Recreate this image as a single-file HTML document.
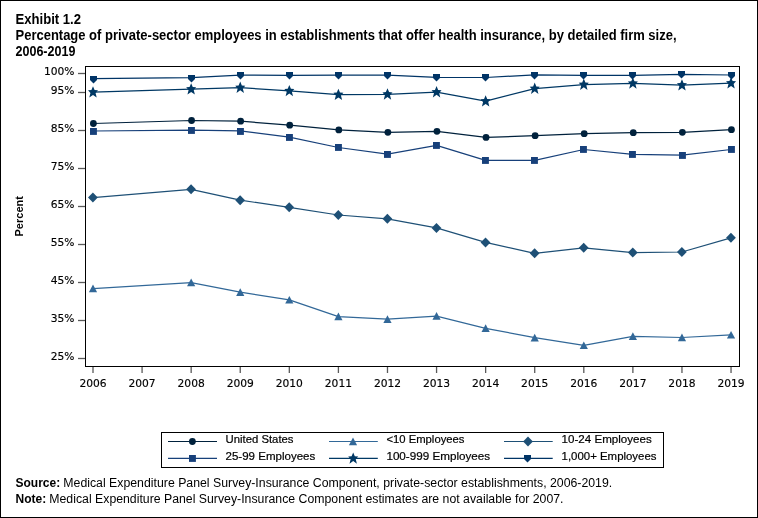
<!DOCTYPE html>
<html><head><meta charset="utf-8"><title>Exhibit 1.2</title>
<style>html,body{margin:0;padding:0;background:#fff;} svg{display:block;}</style>
</head><body>
<svg width="758" height="518" viewBox="0 0 758 518">
<rect x="0.5" y="0.5" width="757" height="517" fill="#fff" stroke="#000" stroke-width="1"/>
<text x="15.5" y="23.8" textLength="65.5" font-family="Liberation Sans, Arial, sans-serif" font-weight="bold" font-size="14" lengthAdjust="spacingAndGlyphs">Exhibit 1.2</text>
<text x="15.5" y="39.7" textLength="661" font-family="Liberation Sans, Arial, sans-serif" font-weight="bold" font-size="14" lengthAdjust="spacingAndGlyphs">Percentage of private-sector employees in establishments that offer health insurance, by detailed firm size,</text>
<text x="15.5" y="55.7" textLength="59.9" font-family="Liberation Sans, Arial, sans-serif" font-weight="bold" font-size="14" lengthAdjust="spacingAndGlyphs">2006-2019</text>
<line x1="78" y1="73.5" x2="85" y2="73.5" stroke="#5a5a5a" stroke-width="1.3"/>
<text x="74.5" y="75.1" text-anchor="end" font-family="DejaVu Sans, Verdana, sans-serif" font-size="10.7" fill="#000" stroke="#000" stroke-width="0.15">100%</text>
<line x1="78" y1="92.5" x2="85" y2="92.5" stroke="#5a5a5a" stroke-width="1.3"/>
<text x="74.5" y="94.1" text-anchor="end" font-family="DejaVu Sans, Verdana, sans-serif" font-size="10.7" fill="#000" stroke="#000" stroke-width="0.15">95%</text>
<line x1="78" y1="130.5" x2="85" y2="130.5" stroke="#5a5a5a" stroke-width="1.3"/>
<text x="74.5" y="132.1" text-anchor="end" font-family="DejaVu Sans, Verdana, sans-serif" font-size="10.7" fill="#000" stroke="#000" stroke-width="0.15">85%</text>
<line x1="78" y1="168.5" x2="85" y2="168.5" stroke="#5a5a5a" stroke-width="1.3"/>
<text x="74.5" y="170.1" text-anchor="end" font-family="DejaVu Sans, Verdana, sans-serif" font-size="10.7" fill="#000" stroke="#000" stroke-width="0.15">75%</text>
<line x1="78" y1="206.5" x2="85" y2="206.5" stroke="#5a5a5a" stroke-width="1.3"/>
<text x="74.5" y="208.1" text-anchor="end" font-family="DejaVu Sans, Verdana, sans-serif" font-size="10.7" fill="#000" stroke="#000" stroke-width="0.15">65%</text>
<line x1="78" y1="244.5" x2="85" y2="244.5" stroke="#5a5a5a" stroke-width="1.3"/>
<text x="74.5" y="246.1" text-anchor="end" font-family="DejaVu Sans, Verdana, sans-serif" font-size="10.7" fill="#000" stroke="#000" stroke-width="0.15">55%</text>
<line x1="78" y1="282.5" x2="85" y2="282.5" stroke="#5a5a5a" stroke-width="1.3"/>
<text x="74.5" y="284.1" text-anchor="end" font-family="DejaVu Sans, Verdana, sans-serif" font-size="10.7" fill="#000" stroke="#000" stroke-width="0.15">45%</text>
<line x1="78" y1="320.5" x2="85" y2="320.5" stroke="#5a5a5a" stroke-width="1.3"/>
<text x="74.5" y="322.1" text-anchor="end" font-family="DejaVu Sans, Verdana, sans-serif" font-size="10.7" fill="#000" stroke="#000" stroke-width="0.15">35%</text>
<line x1="78" y1="358.5" x2="85" y2="358.5" stroke="#5a5a5a" stroke-width="1.3"/>
<text x="74.5" y="360.1" text-anchor="end" font-family="DejaVu Sans, Verdana, sans-serif" font-size="10.7" fill="#000" stroke="#000" stroke-width="0.15">25%</text>
<line x1="93.00" y1="367" x2="93.00" y2="373" stroke="#5a5a5a" stroke-width="1.3"/>
<text x="93.00" y="387.2" text-anchor="middle" font-family="DejaVu Sans, Verdana, sans-serif" font-size="10.7" fill="#000" stroke="#000" stroke-width="0.15">2006</text>
<line x1="142.08" y1="367" x2="142.08" y2="373" stroke="#5a5a5a" stroke-width="1.3"/>
<text x="142.08" y="387.2" text-anchor="middle" font-family="DejaVu Sans, Verdana, sans-serif" font-size="10.7" fill="#000" stroke="#000" stroke-width="0.15">2007</text>
<line x1="191.16" y1="367" x2="191.16" y2="373" stroke="#5a5a5a" stroke-width="1.3"/>
<text x="191.16" y="387.2" text-anchor="middle" font-family="DejaVu Sans, Verdana, sans-serif" font-size="10.7" fill="#000" stroke="#000" stroke-width="0.15">2008</text>
<line x1="240.24" y1="367" x2="240.24" y2="373" stroke="#5a5a5a" stroke-width="1.3"/>
<text x="240.24" y="387.2" text-anchor="middle" font-family="DejaVu Sans, Verdana, sans-serif" font-size="10.7" fill="#000" stroke="#000" stroke-width="0.15">2009</text>
<line x1="289.32" y1="367" x2="289.32" y2="373" stroke="#5a5a5a" stroke-width="1.3"/>
<text x="289.32" y="387.2" text-anchor="middle" font-family="DejaVu Sans, Verdana, sans-serif" font-size="10.7" fill="#000" stroke="#000" stroke-width="0.15">2010</text>
<line x1="338.40" y1="367" x2="338.40" y2="373" stroke="#5a5a5a" stroke-width="1.3"/>
<text x="338.40" y="387.2" text-anchor="middle" font-family="DejaVu Sans, Verdana, sans-serif" font-size="10.7" fill="#000" stroke="#000" stroke-width="0.15">2011</text>
<line x1="387.48" y1="367" x2="387.48" y2="373" stroke="#5a5a5a" stroke-width="1.3"/>
<text x="387.48" y="387.2" text-anchor="middle" font-family="DejaVu Sans, Verdana, sans-serif" font-size="10.7" fill="#000" stroke="#000" stroke-width="0.15">2012</text>
<line x1="436.56" y1="367" x2="436.56" y2="373" stroke="#5a5a5a" stroke-width="1.3"/>
<text x="436.56" y="387.2" text-anchor="middle" font-family="DejaVu Sans, Verdana, sans-serif" font-size="10.7" fill="#000" stroke="#000" stroke-width="0.15">2013</text>
<line x1="485.64" y1="367" x2="485.64" y2="373" stroke="#5a5a5a" stroke-width="1.3"/>
<text x="485.64" y="387.2" text-anchor="middle" font-family="DejaVu Sans, Verdana, sans-serif" font-size="10.7" fill="#000" stroke="#000" stroke-width="0.15">2014</text>
<line x1="534.72" y1="367" x2="534.72" y2="373" stroke="#5a5a5a" stroke-width="1.3"/>
<text x="534.72" y="387.2" text-anchor="middle" font-family="DejaVu Sans, Verdana, sans-serif" font-size="10.7" fill="#000" stroke="#000" stroke-width="0.15">2015</text>
<line x1="583.80" y1="367" x2="583.80" y2="373" stroke="#5a5a5a" stroke-width="1.3"/>
<text x="583.80" y="387.2" text-anchor="middle" font-family="DejaVu Sans, Verdana, sans-serif" font-size="10.7" fill="#000" stroke="#000" stroke-width="0.15">2016</text>
<line x1="632.88" y1="367" x2="632.88" y2="373" stroke="#5a5a5a" stroke-width="1.3"/>
<text x="632.88" y="387.2" text-anchor="middle" font-family="DejaVu Sans, Verdana, sans-serif" font-size="10.7" fill="#000" stroke="#000" stroke-width="0.15">2017</text>
<line x1="681.96" y1="367" x2="681.96" y2="373" stroke="#5a5a5a" stroke-width="1.3"/>
<text x="681.96" y="387.2" text-anchor="middle" font-family="DejaVu Sans, Verdana, sans-serif" font-size="10.7" fill="#000" stroke="#000" stroke-width="0.15">2018</text>
<line x1="731.04" y1="367" x2="731.04" y2="373" stroke="#5a5a5a" stroke-width="1.3"/>
<text x="731.04" y="387.2" text-anchor="middle" font-family="DejaVu Sans, Verdana, sans-serif" font-size="10.7" fill="#000" stroke="#000" stroke-width="0.15">2019</text>
<text transform="translate(23,216.3) rotate(-90)" text-anchor="middle" font-family="Liberation Sans, Arial, sans-serif" font-weight="bold" font-size="11">Percent</text>
<polyline points="93.00,288.60 191.16,282.60 240.24,292.20 289.32,299.90 338.40,316.60 387.48,319.20 436.56,316.10 485.64,328.30 534.72,337.70 583.80,345.40 632.88,336.30 681.96,337.50 731.04,334.90" fill="none" stroke="#326898" stroke-width="1.2" stroke-linejoin="round"/>
<polyline points="92.90,197.60 191.06,189.30 240.14,200.20 289.22,207.30 338.30,215.00 387.38,218.80 436.46,227.90 485.54,242.40 534.62,253.30 583.70,247.80 632.78,252.60 681.86,252.00 730.94,237.80" fill="none" stroke="#1e5076" stroke-width="1.2" stroke-linejoin="round"/>
<polyline points="93.00,131.00 191.16,130.10 240.24,130.90 289.32,137.20 338.40,147.50 387.48,154.10 436.56,145.40 485.64,160.40 534.72,160.40 583.80,149.50 632.88,154.30 681.96,155.10 731.04,149.50" fill="none" stroke="#17407a" stroke-width="1.2" stroke-linejoin="round"/>
<polyline points="93.40,123.50 191.56,120.50 240.64,121.20 289.72,125.20 338.80,129.90 387.88,132.30 436.96,131.30 486.04,137.40 535.12,135.70 584.20,133.70 633.28,132.70 682.36,132.30 731.44,129.70" fill="none" stroke="#00213c" stroke-width="1.2" stroke-linejoin="round"/>
<polyline points="93.00,92.20 191.16,89.20 240.24,87.60 289.32,90.90 338.40,94.70 387.48,94.30 436.56,92.10 485.64,101.20 534.72,88.60 583.80,84.60 632.88,83.40 681.96,85.20 731.04,83.20" fill="none" stroke="#003864" stroke-width="1.2" stroke-linejoin="round"/>
<polyline points="93.00,78.70 191.16,77.60 240.24,75.10 289.32,75.30 338.40,75.10 387.48,75.10 436.56,77.30 485.64,77.50 534.72,74.90 583.80,75.30 632.88,75.30 681.96,74.30 731.04,75.00" fill="none" stroke="#003466" stroke-width="1.2" stroke-linejoin="round"/>
<path d="M93.00,284.60 L97.10,292.30 L88.90,292.30Z" fill="#326898"/>
<path d="M191.16,278.60 L195.26,286.30 L187.06,286.30Z" fill="#326898"/>
<path d="M240.24,288.20 L244.34,295.90 L236.14,295.90Z" fill="#326898"/>
<path d="M289.32,295.90 L293.42,303.60 L285.22,303.60Z" fill="#326898"/>
<path d="M338.40,312.60 L342.50,320.30 L334.30,320.30Z" fill="#326898"/>
<path d="M387.48,315.20 L391.58,322.90 L383.38,322.90Z" fill="#326898"/>
<path d="M436.56,312.10 L440.66,319.80 L432.46,319.80Z" fill="#326898"/>
<path d="M485.64,324.30 L489.74,332.00 L481.54,332.00Z" fill="#326898"/>
<path d="M534.72,333.70 L538.82,341.40 L530.62,341.40Z" fill="#326898"/>
<path d="M583.80,341.40 L587.90,349.10 L579.70,349.10Z" fill="#326898"/>
<path d="M632.88,332.30 L636.98,340.00 L628.78,340.00Z" fill="#326898"/>
<path d="M681.96,333.50 L686.06,341.20 L677.86,341.20Z" fill="#326898"/>
<path d="M731.04,330.90 L735.14,338.60 L726.94,338.60Z" fill="#326898"/>
<path d="M92.90,192.60 L97.80,197.60 L92.90,202.60 L88.00,197.60Z" fill="#1e5076"/>
<path d="M191.06,184.30 L195.96,189.30 L191.06,194.30 L186.16,189.30Z" fill="#1e5076"/>
<path d="M240.14,195.20 L245.04,200.20 L240.14,205.20 L235.24,200.20Z" fill="#1e5076"/>
<path d="M289.22,202.30 L294.12,207.30 L289.22,212.30 L284.32,207.30Z" fill="#1e5076"/>
<path d="M338.30,210.00 L343.20,215.00 L338.30,220.00 L333.40,215.00Z" fill="#1e5076"/>
<path d="M387.38,213.80 L392.28,218.80 L387.38,223.80 L382.48,218.80Z" fill="#1e5076"/>
<path d="M436.46,222.90 L441.36,227.90 L436.46,232.90 L431.56,227.90Z" fill="#1e5076"/>
<path d="M485.54,237.40 L490.44,242.40 L485.54,247.40 L480.64,242.40Z" fill="#1e5076"/>
<path d="M534.62,248.30 L539.52,253.30 L534.62,258.30 L529.72,253.30Z" fill="#1e5076"/>
<path d="M583.70,242.80 L588.60,247.80 L583.70,252.80 L578.80,247.80Z" fill="#1e5076"/>
<path d="M632.78,247.60 L637.68,252.60 L632.78,257.60 L627.88,252.60Z" fill="#1e5076"/>
<path d="M681.86,247.00 L686.76,252.00 L681.86,257.00 L676.96,252.00Z" fill="#1e5076"/>
<path d="M730.94,232.80 L735.84,237.80 L730.94,242.80 L726.04,237.80Z" fill="#1e5076"/>
<rect x="90" y="128" width="6.9" height="6.9" fill="#17407a"/>
<rect x="188" y="127" width="6.9" height="6.9" fill="#17407a"/>
<rect x="237" y="128" width="6.9" height="6.9" fill="#17407a"/>
<rect x="286" y="134" width="6.9" height="6.9" fill="#17407a"/>
<rect x="335" y="144" width="6.9" height="6.9" fill="#17407a"/>
<rect x="384" y="151" width="6.9" height="6.9" fill="#17407a"/>
<rect x="433" y="142" width="6.9" height="6.9" fill="#17407a"/>
<rect x="482" y="157" width="6.9" height="6.9" fill="#17407a"/>
<rect x="531" y="157" width="6.9" height="6.9" fill="#17407a"/>
<rect x="580" y="146" width="6.9" height="6.9" fill="#17407a"/>
<rect x="629" y="151" width="6.9" height="6.9" fill="#17407a"/>
<rect x="679" y="152" width="6.9" height="6.9" fill="#17407a"/>
<rect x="728" y="146" width="6.9" height="6.9" fill="#17407a"/>
<circle cx="93.40" cy="123.50" r="3.4" fill="#00213c"/>
<circle cx="191.56" cy="120.50" r="3.4" fill="#00213c"/>
<circle cx="240.64" cy="121.20" r="3.4" fill="#00213c"/>
<circle cx="289.72" cy="125.20" r="3.4" fill="#00213c"/>
<circle cx="338.80" cy="129.90" r="3.4" fill="#00213c"/>
<circle cx="387.88" cy="132.30" r="3.4" fill="#00213c"/>
<circle cx="436.96" cy="131.30" r="3.4" fill="#00213c"/>
<circle cx="486.04" cy="137.40" r="3.4" fill="#00213c"/>
<circle cx="535.12" cy="135.70" r="3.4" fill="#00213c"/>
<circle cx="584.20" cy="133.70" r="3.4" fill="#00213c"/>
<circle cx="633.28" cy="132.70" r="3.4" fill="#00213c"/>
<circle cx="682.36" cy="132.30" r="3.4" fill="#00213c"/>
<circle cx="731.44" cy="129.70" r="3.4" fill="#00213c"/>
<path d="M93.00,86.20 L94.59,90.02 L98.00,90.30 L95.57,93.03 L96.70,97.60 L93.00,94.90 L89.30,97.60 L90.43,93.03 L88.00,90.30 L91.41,90.02Z" fill="#003864"/>
<path d="M191.16,83.20 L192.75,87.02 L196.16,87.30 L193.73,90.03 L194.86,94.60 L191.16,91.90 L187.46,94.60 L188.59,90.03 L186.16,87.30 L189.57,87.02Z" fill="#003864"/>
<path d="M240.24,81.60 L241.83,85.42 L245.24,85.70 L242.81,88.43 L243.94,93.00 L240.24,90.30 L236.54,93.00 L237.67,88.43 L235.24,85.70 L238.65,85.42Z" fill="#003864"/>
<path d="M289.32,84.90 L290.91,88.72 L294.32,89.00 L291.89,91.73 L293.02,96.30 L289.32,93.60 L285.62,96.30 L286.75,91.73 L284.32,89.00 L287.73,88.72Z" fill="#003864"/>
<path d="M338.40,88.70 L339.99,92.52 L343.40,92.80 L340.97,95.53 L342.10,100.10 L338.40,97.40 L334.70,100.10 L335.83,95.53 L333.40,92.80 L336.81,92.52Z" fill="#003864"/>
<path d="M387.48,88.30 L389.07,92.12 L392.48,92.40 L390.05,95.13 L391.18,99.70 L387.48,97.00 L383.78,99.70 L384.91,95.13 L382.48,92.40 L385.89,92.12Z" fill="#003864"/>
<path d="M436.56,86.10 L438.15,89.92 L441.56,90.20 L439.13,92.93 L440.26,97.50 L436.56,94.80 L432.86,97.50 L433.99,92.93 L431.56,90.20 L434.97,89.92Z" fill="#003864"/>
<path d="M485.64,95.20 L487.23,99.02 L490.64,99.30 L488.21,102.03 L489.34,106.60 L485.64,103.90 L481.94,106.60 L483.07,102.03 L480.64,99.30 L484.05,99.02Z" fill="#003864"/>
<path d="M534.72,82.60 L536.31,86.42 L539.72,86.70 L537.29,89.43 L538.42,94.00 L534.72,91.30 L531.02,94.00 L532.15,89.43 L529.72,86.70 L533.13,86.42Z" fill="#003864"/>
<path d="M583.80,78.60 L585.39,82.42 L588.80,82.70 L586.37,85.43 L587.50,90.00 L583.80,87.30 L580.10,90.00 L581.23,85.43 L578.80,82.70 L582.21,82.42Z" fill="#003864"/>
<path d="M632.88,77.40 L634.47,81.22 L637.88,81.50 L635.45,84.23 L636.58,88.80 L632.88,86.10 L629.18,88.80 L630.31,84.23 L627.88,81.50 L631.29,81.22Z" fill="#003864"/>
<path d="M681.96,79.20 L683.55,83.02 L686.96,83.30 L684.53,86.03 L685.66,90.60 L681.96,87.90 L678.26,90.60 L679.39,86.03 L676.96,83.30 L680.37,83.02Z" fill="#003864"/>
<path d="M731.04,77.20 L732.63,81.02 L736.04,81.30 L733.61,84.03 L734.74,88.60 L731.04,85.90 L727.34,88.60 L728.47,84.03 L726.04,81.30 L729.45,81.02Z" fill="#003864"/>
<path d="M90,76 H97 V79.9 L93.5,83.6 L90,79.9Z" fill="#003466"/>
<path d="M188,75 H195 V78.9 L191.5,82.6 L188,78.9Z" fill="#003466"/>
<path d="M237,72 H244 V75.9 L240.5,79.6 L237,75.9Z" fill="#003466"/>
<path d="M286,72 H293 V75.9 L289.5,79.6 L286,75.9Z" fill="#003466"/>
<path d="M335,72 H342 V75.9 L338.5,79.6 L335,75.9Z" fill="#003466"/>
<path d="M384,72 H391 V75.9 L387.5,79.6 L384,75.9Z" fill="#003466"/>
<path d="M433,74 H440 V77.9 L436.5,81.6 L433,77.9Z" fill="#003466"/>
<path d="M482,74 H489 V77.9 L485.5,81.6 L482,77.9Z" fill="#003466"/>
<path d="M531,72 H538 V75.9 L534.5,79.6 L531,75.9Z" fill="#003466"/>
<path d="M580,72 H587 V75.9 L583.5,79.6 L580,75.9Z" fill="#003466"/>
<path d="M629,72 H636 V75.9 L632.5,79.6 L629,75.9Z" fill="#003466"/>
<path d="M678,71 H685 V74.9 L681.5,78.6 L678,74.9Z" fill="#003466"/>
<path d="M728,72 H735 V75.9 L731.5,79.6 L728,75.9Z" fill="#003466"/>
<rect x="85.5" y="66.5" width="654" height="300" fill="none" stroke="#000" stroke-width="1"/>
<rect x="161.5" y="432.5" width="502" height="35" fill="none" stroke="#000" stroke-width="1"/>
<line x1="168" y1="441.5" x2="217" y2="441.5" stroke="#00213c" stroke-width="1.2"/>
<circle cx="192.40" cy="441.50" r="3.4" fill="#00213c"/>
<text x="225.5" y="442.9" textLength="68" lengthAdjust="spacingAndGlyphs" font-family="Liberation Sans, Arial, sans-serif" font-size="11.3" fill="#000" stroke="#000" stroke-width="0.2">United States</text>
<line x1="168" y1="458.4" x2="217" y2="458.4" stroke="#17407a" stroke-width="1.2"/>
<rect x="189" y="455" width="6.9" height="6.9" fill="#17407a"/>
<text x="225.5" y="459.6" textLength="89.8" lengthAdjust="spacingAndGlyphs" font-family="Liberation Sans, Arial, sans-serif" font-size="11.3" fill="#000" stroke="#000" stroke-width="0.2">25-99 Employees</text>
<line x1="329" y1="441.5" x2="377.8" y2="441.5" stroke="#326898" stroke-width="1.2"/>
<path d="M353.00,437.50 L357.10,445.20 L348.90,445.20Z" fill="#326898"/>
<text x="386.4" y="442.9" textLength="78.1" lengthAdjust="spacingAndGlyphs" font-family="Liberation Sans, Arial, sans-serif" font-size="11.3" fill="#000" stroke="#000" stroke-width="0.2">&lt;10 Employees</text>
<line x1="329" y1="458.4" x2="377.8" y2="458.4" stroke="#003864" stroke-width="1.2"/>
<path d="M353.20,452.40 L354.79,456.22 L358.20,456.50 L355.77,459.23 L356.90,463.80 L353.20,461.10 L349.50,463.80 L350.63,459.23 L348.20,456.50 L351.61,456.22Z" fill="#003864"/>
<text x="386.4" y="459.6" textLength="103.8" lengthAdjust="spacingAndGlyphs" font-family="Liberation Sans, Arial, sans-serif" font-size="11.3" fill="#000" stroke="#000" stroke-width="0.2">100-999 Employees</text>
<line x1="504" y1="441.5" x2="552.7" y2="441.5" stroke="#1e5076" stroke-width="1.2"/>
<path d="M528.00,436.50 L532.90,441.50 L528.00,446.50 L523.10,441.50Z" fill="#1e5076"/>
<text x="561.6" y="442.9" textLength="90.1" lengthAdjust="spacingAndGlyphs" font-family="Liberation Sans, Arial, sans-serif" font-size="11.3" fill="#000" stroke="#000" stroke-width="0.2">10-24 Employees</text>
<line x1="504" y1="458.4" x2="552.7" y2="458.4" stroke="#003466" stroke-width="1.2"/>
<path d="M524,455 H531 V458.9 L527.5,462.6 L524,458.9Z" fill="#003466"/>
<text x="561.6" y="459.6" textLength="94.9" lengthAdjust="spacingAndGlyphs" font-family="Liberation Sans, Arial, sans-serif" font-size="11.3" fill="#000" stroke="#000" stroke-width="0.2">1,000+ Employees</text>
<text x="15.5" y="486.6" font-weight="bold" font-family="Liberation Sans, Arial, sans-serif" font-size="12" fill="#000">Source:</text>
<text x="63.3" y="486.6" textLength="548.9" lengthAdjust="spacingAndGlyphs" font-family="Liberation Sans, Arial, sans-serif" font-size="12" fill="#000">Medical Expenditure Panel Survey-Insurance Component, private-sector establishments, 2006-2019.</text>
<text x="15.5" y="502.6" font-weight="bold" font-family="Liberation Sans, Arial, sans-serif" font-size="12" fill="#000">Note:</text>
<text x="49.3" y="502.6" textLength="514.2" lengthAdjust="spacingAndGlyphs" font-family="Liberation Sans, Arial, sans-serif" font-size="12" fill="#000">Medical Expenditure Panel Survey-Insurance Component estimates are not available for 2007.</text>
</svg>
</body></html>
